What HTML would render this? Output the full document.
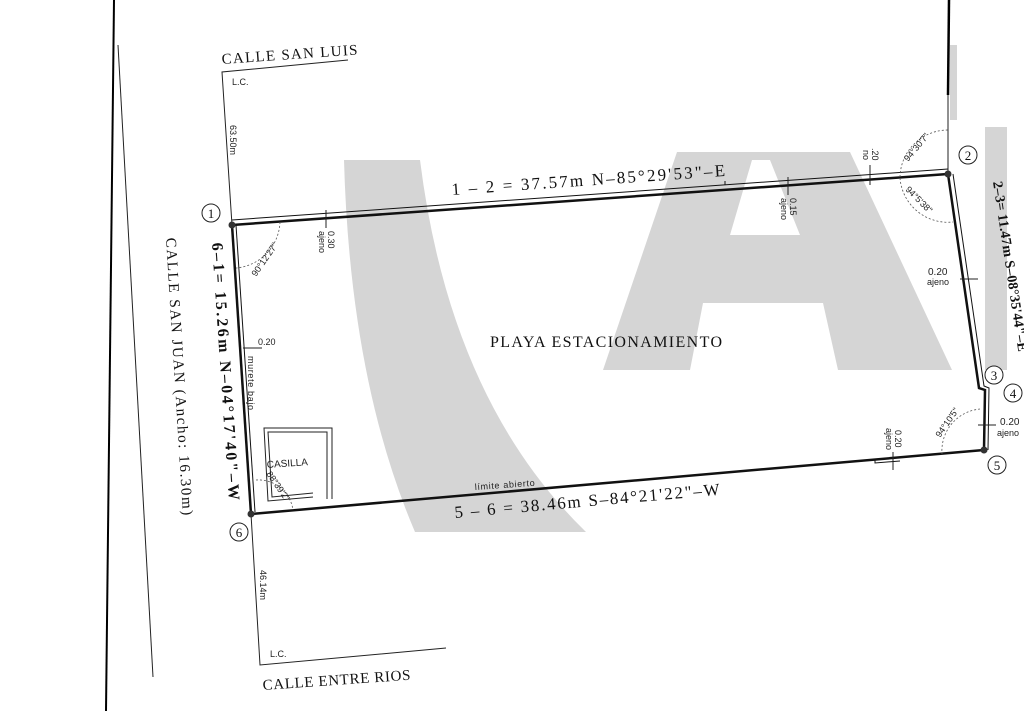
<!DOCTYPE html>
<html><head><meta charset="utf-8"><style>
html,body{margin:0;padding:0;background:#fff;}
svg{display:block;}
.s{font-family:"Liberation Serif",serif;fill:#111;}
.a{font-family:"Liberation Sans",sans-serif;fill:#222;}
</style></head><body>
<svg width="1024" height="711" viewBox="0 0 1024 711" xmlns="http://www.w3.org/2000/svg" xml:space="preserve">
<rect width="1024" height="711" fill="#fff"/>
<g fill="#d5d5d5">
<path d="M344,160 L420,160 Q450,400 586,532 L415,532 Q350,380 344,160 Z"/>
<path fill-rule="evenodd" d="M677,152 L850,152 L952,370 L603,370 Z M752,160 L770,160 L800,235 L730,235 Z M703,303 L823,303 L838,370 L690,370 Z"/>
<rect x="985" y="127" width="22" height="243"/>
<rect x="950" y="45" width="7" height="75"/>
</g>
<line x1="114" y1="0" x2="106" y2="711" stroke="#000" stroke-width="2"/>
<line x1="118" y1="45" x2="153" y2="677" stroke="#222" stroke-width="1"/>
<line x1="949" y1="0" x2="948" y2="95" stroke="#000" stroke-width="2.5"/>
<line x1="948" y1="95" x2="948" y2="174" stroke="#222" stroke-width="1"/>
<polyline points="348,60 222,72 232,225" fill="none" stroke="#222" stroke-width="1"/>
<polyline points="251,514 260,665 446,648" fill="none" stroke="#222" stroke-width="1"/>
<g fill="none" stroke="#111">
<line x1="232" y1="225" x2="948" y2="174" stroke-width="2.5"/>
<line x1="232" y1="220" x2="948" y2="169" stroke-width="1"/>
<line x1="232" y1="225" x2="251" y2="514" stroke-width="2.5"/>
<line x1="236" y1="225" x2="255" y2="512" stroke-width="1"/>
<polyline points="948,174 979,388 985,390 984,450" stroke-width="2.5"/>
<polyline points="953,174 984,386 989,388 988,450" stroke-width="1"/>
<line x1="251" y1="514" x2="984" y2="450" stroke-width="2.5"/>
<polyline points="875,459 875,463 900,461" stroke-width="1"/>
<polyline points="725,181 725,185" stroke-width="1"/>
</g>
<g fill="#333">
<circle cx="232" cy="225" r="3.5"/><circle cx="948" cy="174" r="3.5"/>
<circle cx="984" cy="450" r="3.5"/><circle cx="251" cy="514" r="3.5"/>
</g>
<g stroke="#222" stroke-width="1">
<line x1="326" y1="210" x2="326" y2="228"/>
<line x1="788" y1="177" x2="788" y2="195"/>
<line x1="870" y1="165" x2="870" y2="185"/>
<line x1="243" y1="348" x2="262" y2="348"/>
<line x1="960" y1="279" x2="978" y2="279"/>
<line x1="978" y1="425" x2="996" y2="425"/>
<line x1="893" y1="452" x2="893" y2="470"/>
</g>
<g fill="none" stroke="#555" stroke-width="0.8" stroke-dasharray="2,2">
<path d="M280,222 A48,48 0 0 1 236,268"/>
<path d="M900,177 A48,48 0 0 1 948,130"/>
<path d="M900,178 A48,48 0 0 0 953,222"/>
<path d="M980,409 A42,42 0 0 0 942,454"/>
<path d="M256,480 A35,35 0 0 1 293,510"/>
</g>
<g fill="none" stroke="#222" stroke-width="1">
<polyline points="313,497 268,501 264,428 332,428 332,499"/>
<polyline points="313,493 272,497 268,432 327,432 327,499"/>
</g>
<text class="a" x="267" y="468" font-size="10" transform="rotate(-4 267 468)">CASILLA</text>
<text class="a" x="266" y="474" font-size="9" transform="rotate(55 266 474)">88°39'2"</text>
<g fill="#fff" stroke="#222" stroke-width="1">
<circle cx="211" cy="213" r="9"/><circle cx="968" cy="155" r="9"/>
<circle cx="994" cy="375" r="9"/><circle cx="1013" cy="393" r="9"/>
<circle cx="997" cy="465" r="9"/><circle cx="239" cy="532" r="9"/>
</g>
<g class="s" font-size="13" text-anchor="middle">
<text x="211" y="218">1</text><text x="968" y="160">2</text><text x="994" y="380">3</text>
<text x="1013" y="398">4</text><text x="997" y="470">5</text><text x="239" y="537">6</text>
</g>
<text class="s" x="222" y="64" font-size="15" textLength="136" lengthAdjust="spacing" transform="rotate(-4 222 64)">CALLE SAN LUIS</text>
<text class="a" x="232" y="85" font-size="9">L.C.</text>
<text class="a" x="230" y="125" font-size="9" transform="rotate(90 230 125)">63.50m</text>
<text class="s" x="452" y="195" font-size="17" textLength="274" lengthAdjust="spacing" transform="rotate(-4 452 195)">1 – 2 = 37.57m  N–85°29'53"–E</text>
<text class="s" x="993" y="182" font-size="14" font-weight="bold" textLength="172" lengthAdjust="spacing" transform="rotate(81.5 993 182)">2–3= 11.47m S–08°35'44"–E</text>
<text class="s" x="212" y="243" font-size="16" font-weight="bold" textLength="258" lengthAdjust="spacing" transform="rotate(86.2 212 243)">6–1= 15.26m  N–04°17'40"–W</text>
<text class="s" x="166" y="238" font-size="15" textLength="278" lengthAdjust="spacing" transform="rotate(86.5 166 238)">CALLE SAN JUAN (Ancho: 16.30m)</text>
<text class="s" x="490" y="347" font-size="16" textLength="232" lengthAdjust="spacing">PLAYA ESTACIONAMIENTO</text>
<text class="a" x="258" y="345" font-size="9">0.20</text>
<text class="a" x="248" y="356" font-size="9" textLength="54" lengthAdjust="spacing" transform="rotate(90 248 356)">murete bajo</text>
<text class="a" x="475" y="490" font-size="9" textLength="60" lengthAdjust="spacing" transform="rotate(-4 475 490)">límite abierto</text>
<text class="s" x="455" y="518" font-size="17" textLength="266" lengthAdjust="spacing" transform="rotate(-5 455 518)">5 – 6 = 38.46m S–84°21'22"–W</text>
<text class="a" x="260" y="570" font-size="9" transform="rotate(90 260 570)">46.14m</text>
<text class="a" x="270" y="657" font-size="9">L.C.</text>
<text class="s" x="263" y="690" font-size="15" textLength="148" lengthAdjust="spacing" transform="rotate(-4 263 690)">CALLE ENTRE RIOS</text>
<text class="a" x="256" y="277" font-size="9" transform="rotate(-55 256 277)">90°12'27"</text>
<text class="a" x="328" y="231" font-size="9" transform="rotate(90 328 231)">0.30</text>
<text class="a" x="319" y="231" font-size="9" transform="rotate(90 319 231)">ajeno</text>
<text class="a" x="790" y="198" font-size="9" transform="rotate(90 790 198)">0.15</text>
<text class="a" x="781" y="198" font-size="9" transform="rotate(90 781 198)">ajeno</text>
<text class="a" x="872" y="148" font-size="9" transform="rotate(90 872 148)">.20</text>
<text class="a" x="863" y="150" font-size="9" transform="rotate(90 863 150)">no</text>
<text class="a" x="908" y="162" font-size="9" transform="rotate(-50 908 162)">94°30'7"</text>
<text class="a" x="905" y="190" font-size="9" transform="rotate(45 905 190)">94°5'38"</text>
<text class="a" x="928" y="275" font-size="10">0.20</text>
<text class="a" x="927" y="285" font-size="9">ajeno</text>
<text class="a" x="940" y="438" font-size="9" transform="rotate(-55 940 438)">94°10'5"</text>
<text class="a" x="1000" y="425" font-size="10">0.20</text>
<text class="a" x="997" y="436" font-size="9">ajeno</text>
<text class="a" x="895" y="430" font-size="9" transform="rotate(90 895 430)">0.20</text>
<text class="a" x="886" y="428" font-size="9" transform="rotate(90 886 428)">ajeno</text>
</svg>
</body></html>
